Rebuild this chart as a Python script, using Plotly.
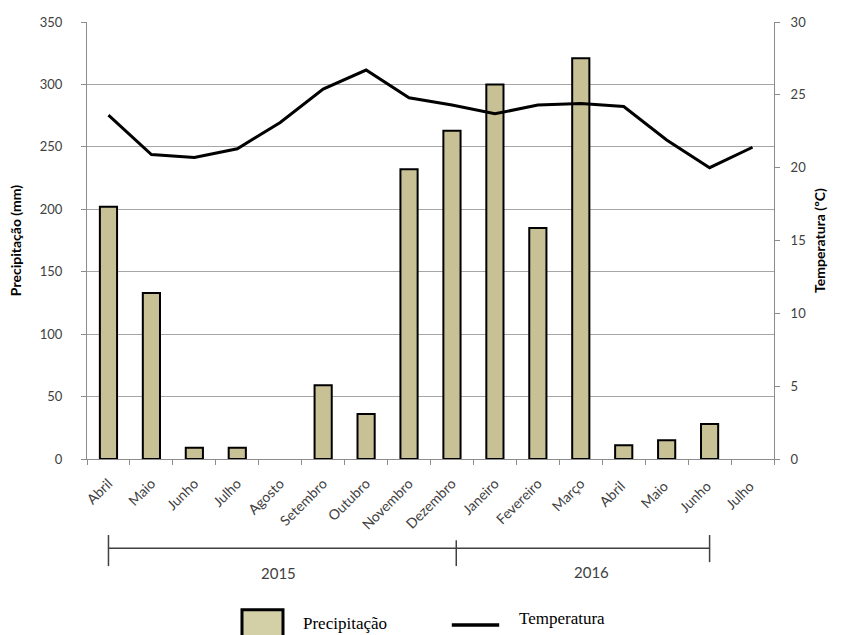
import plotly.graph_objects as go

months = ["Abril", "Maio", "Junho", "Julho", "Agosto", "Setembro", "Outubro",
          "Novembro", "Dezembro", "Janeiro", "Fevereiro", "Março", "Abril ",
          "Maio ", "Junho ", "Julho "]
precipitacao = [202, 133, 9, 9, 0, 59, 36, 232, 263, 300, 185, 321, 11, 15, 28, 0]
temperatura = [23.6, 20.9, 20.7, 21.3, 23.1, 25.4, 26.7, 24.8, 24.3, 23.7,
               24.3, 24.4, 24.2, 21.9, 20.0, 21.4]
years = ["2015", "2016"]

font_main = "Lato, 'Open Sans', sans-serif"
font_serif = "'Liberation Serif', 'DejaVu Serif', serif"

bar_line_widths = [2 if v > 0 else 0 for v in precipitacao]

fig = go.Figure()
fig.add_trace(go.Bar(
    x=months, y=precipitacao, name="Precipitação",
    marker=dict(color="#C8C196", line=dict(color="black", width=bar_line_widths)),
    yaxis="y", showlegend=False,
))
fig.add_trace(go.Scatter(
    x=months, y=temperatura, name="Temperatura", mode="lines",
    line=dict(color="black", width=3), yaxis="y2", showlegend=False,
))

axis_col = "#8C8C8C"
fig.update_layout(
    width=842, height=635,
    margin=dict(l=87, r=68, t=22, b=176),
    paper_bgcolor="white", plot_bgcolor="white",
    bargap=0.6,
    font=dict(family=font_main, color="#404040"),
    xaxis=dict(
        type="category", tickangle=-45, tickson="boundaries",
        ticks="outside", ticklen=5, tickcolor=axis_col,
        showline=True, linecolor=axis_col, linewidth=1,
        showgrid=False, tickfont=dict(size=14, color="#404040"),
        ticklabelstandoff=10,
    ),
    yaxis=dict(
        range=[0, 350], dtick=50, ticks="outside", ticklen=5, tickcolor=axis_col,
        showline=True, linecolor=axis_col, showgrid=True, gridcolor="#A6A6A6",
        gridwidth=1, zeroline=False, tickfont=dict(size=13, color="#404040"),
        ticklabelstandoff=16,
        title=dict(text="<b>Precipitação (mm)</b>", font=dict(size=14, color="black"),
                   standoff=14),
    ),
    yaxis2=dict(
        range=[0, 30], dtick=5, overlaying="y", side="right", ticks="outside",
        ticklen=5, tickcolor=axis_col, showline=True, linecolor=axis_col,
        showgrid=False, zeroline=False, tickfont=dict(size=13, color="#404040"),
        ticklabelstandoff=8,
        title=dict(text="<b>Temperatura (ºC)</b>", font=dict(size=14, color="black"),
                   standoff=10),
    ),
)

# Year brackets
br_col = "#404040"
y_line = -0.204
fig.add_shape(type="line", xref="x", yref="paper", x0=0, x1=14, y0=y_line, y1=y_line,
              line=dict(color=br_col, width=1.5))
for xv, y0, y1 in [(0, -0.174, -0.245), (8.1, -0.186, -0.245), (14, -0.174, -0.236)]:
    fig.add_shape(type="line", xref="x", yref="paper", x0=xv, x1=xv, y0=y0, y1=y1,
                  line=dict(color=br_col, width=1.5))
fig.add_annotation(x=3.95, y=-0.262, xref="x", yref="paper", text=years[0],
                   yanchor="middle", showarrow=False, font=dict(size=15, color="#404040"))
fig.add_annotation(x=11.26, y=-0.258, xref="x", yref="paper", text=years[1],
                   yanchor="middle", showarrow=False, font=dict(size=15, color="#404040"))

# Custom legend
fig.add_shape(type="rect", xref="paper", yref="paper", x0=0.2256, x1=0.2853,
              y0=-0.408, y1=-0.345, fillcolor="#D3CFA6",
              line=dict(color="black", width=3))
fig.add_annotation(x=0.312, y=-0.376, xref="paper", yref="paper", text="Precipitação",
                   xanchor="left", yanchor="middle", showarrow=False,
                   font=dict(family=font_serif, size=17, color="black"))
fig.add_shape(type="line", xref="paper", yref="paper", x0=0.531, x1=0.600,
              y0=-0.380, y1=-0.380, line=dict(color="black", width=3.5))
fig.add_annotation(x=0.626, y=-0.366, xref="paper", yref="paper", text="Temperatura",
                   xanchor="left", yanchor="middle", showarrow=False,
                   font=dict(family=font_serif, size=17, color="black"))

fig.write_html("out.html")
